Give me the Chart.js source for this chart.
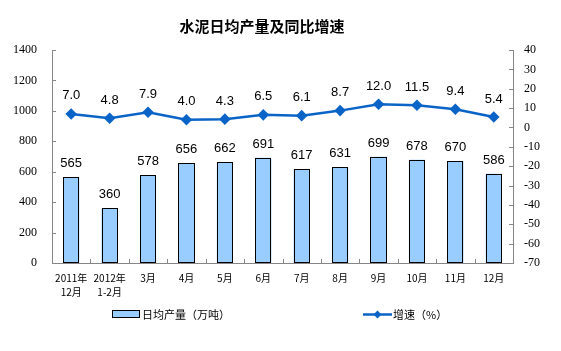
<!DOCTYPE html>
<html>
<head>
<meta charset="utf-8">
<script src="https://cdn.jsdelivr.net/npm/chart.js@4"></script>
<style>
html,body{margin:0;padding:0;background:#fff;}
#wrap{width:561px;height:351px;position:relative;}
</style>
</head>
<body>
<div id="wrap"><canvas id="c" width="561" height="351"></canvas></div>
<script>
const titleText = "水泥日均产量及同比增速";
const categories = [["2011年","12月"],["2012年","1-2月"],"3月","4月","5月","6月","7月","8月","9月","10月","11月","12月"];
const outputValues = [565, 360, 578, 656, 662, 691, 617, 631, 699, 678, 670, 586];
const growthValues = [7.0, 4.8, 7.9, 4.0, 4.3, 6.5, 6.1, 8.7, 12.0, 11.5, 9.4, 5.4];
const barLabel = "日均产量（万吨）";
const lineLabel = "增速（%）";

const BAR_FILL = "#99CCFF";
const LINE_COLOR = "#0A64C8";
const AXIS_COLOR = "#868686";

const decorPlugin = {
  id: "decor",
  afterDatasetDraw(chart, args) {
    if (args.index !== 1) return;
    const ctx = chart.ctx;
    ctx.save();
    ctx.lineWidth = 1;
    args.meta.data.forEach(el => {
      const l = Math.round(el.x - el.width / 2) + 0.5;
      const r = Math.round(el.x + el.width / 2) - 0.5;
      const t = Math.round(el.y) + 0.5;
      const b = Math.round(el.base) - 0.5;
      ctx.fillStyle = BAR_FILL;
      ctx.fillRect(l, t, r - l, b - t);
      ctx.strokeStyle = "#000";
      ctx.strokeRect(l, t, r - l, b - t);
    });
    ctx.restore();
  },
  afterDatasetsDraw(chart) {
    const ctx = chart.ctx;
    const area = chart.chartArea;
    ctx.save();
    ctx.strokeStyle = AXIS_COLOR;
    ctx.lineWidth = 1;
    const ys = chart.scales.y, y1s = chart.scales.y1, xs = chart.scales.x;
    ys.ticks.forEach(t => {
      const py = Math.round(ys.getPixelForValue(t.value)) + 0.5;
      ctx.beginPath(); ctx.moveTo(area.left, py); ctx.lineTo(area.left + 4, py); ctx.stroke();
    });
    y1s.ticks.forEach(t => {
      const py = Math.round(y1s.getPixelForValue(t.value)) + 0.5;
      ctx.beginPath(); ctx.moveTo(area.right, py); ctx.lineTo(area.right - 4, py); ctx.stroke();
    });
    for (let i = 1; i < categories.length; i++) {
      const px = Math.round((xs.getPixelForValue(i - 1) + xs.getPixelForValue(i)) / 2) + 0.5;
      ctx.beginPath(); ctx.moveTo(px, area.bottom); ctx.lineTo(px, area.bottom - 4); ctx.stroke();
    }
    ctx.fillStyle = "#000";
    ctx.font = "13px 'Liberation Sans', Arial, sans-serif";
    ctx.textAlign = "center";
    ctx.textBaseline = "middle";
    const barMeta = chart.getDatasetMeta(1);
    barMeta.data.forEach((el, i) => {
      ctx.fillText(String(outputValues[i]), el.x, el.y - 13.5);
    });
    const lineMeta = chart.getDatasetMeta(0);
    lineMeta.data.forEach((el, i) => {
      ctx.fillText(growthValues[i].toFixed(1), el.x, el.y - 18);
    });
    ctx.restore();
  },
  afterDraw(chart) {
    const ctx = chart.ctx;
    ctx.save();
    ctx.fillStyle = "#000";
    ctx.font = "bold 15px 'Noto Sans CJK SC', sans-serif";
    ctx.textAlign = "center";
    ctx.textBaseline = "middle";
    ctx.fillText(titleText, 262, 26);
    ctx.font = "11px 'Noto Sans CJK SC', sans-serif";
    ctx.textAlign = "left";
    ctx.fillStyle = BAR_FILL;
    ctx.fillRect(112.5, 310.5, 27, 7);
    ctx.strokeStyle = "#000"; ctx.lineWidth = 1;
    ctx.strokeRect(112.5, 310.5, 27, 7);
    ctx.fillStyle = "#000";
    ctx.fillText(barLabel, 142, 314.5);
    ctx.strokeStyle = LINE_COLOR; ctx.lineWidth = 2.5;
    ctx.beginPath(); ctx.moveTo(363, 314.5); ctx.lineTo(392, 314.5); ctx.stroke();
    ctx.fillStyle = LINE_COLOR;
    ctx.beginPath(); ctx.moveTo(377.5, 310.5); ctx.lineTo(381.5, 314.5); ctx.lineTo(377.5, 318.5); ctx.lineTo(373.5, 314.5); ctx.closePath(); ctx.fill();
    ctx.fillStyle = "#000";
    ctx.fillText(lineLabel, 393, 314.5);
    ctx.restore();
  }
};

new Chart(document.getElementById("c"), {
  type: "bar",
  data: {
    labels: categories,
    datasets: [
      {
        type: "line",
        label: lineLabel,
        data: growthValues,
        yAxisID: "y1",
        borderColor: LINE_COLOR,
        backgroundColor: LINE_COLOR,
        borderWidth: 2.5,
        pointStyle: "rectRot",
        pointRadius: 4,
        pointBackgroundColor: LINE_COLOR,
        pointBorderColor: LINE_COLOR,
        tension: 0,
        order: 0
      },
      {
        type: "bar",
        label: barLabel,
        data: outputValues,
        yAxisID: "y",
        backgroundColor: BAR_FILL,
        borderColor: "#000",
        borderWidth: 0,
        barPercentage: 0.42,
        categoryPercentage: 1.0,
        order: 1
      }
    ]
  },
  options: {
    responsive: false,
    animation: false,
    layout: { padding: { top: 50, left: 0, right: 0, bottom: 0 } },
    plugins: { legend: { display: false }, title: { display: false }, tooltip: { enabled: false } },
    scales: {
      x: {
        grid: { display: false, drawTicks: false },
        border: { display: true, color: AXIS_COLOR, width: 1 },
        ticks: { color: "#000", font: { family: "'Noto Sans CJK SC', sans-serif", size: 10, lineHeight: 1.4 }, padding: 8, maxRotation: 0, autoSkip: false },
        afterFit(s) { s.height = 88; }
      },
      y: {
        position: "left",
        min: 0, max: 1400,
        grid: { display: false, drawTicks: false },
        border: { display: true, color: AXIS_COLOR, width: 1 },
        ticks: { stepSize: 200, color: "#000", font: { family: "'Liberation Serif', 'DejaVu Serif', serif", size: 12 }, padding: 15, callback: v => String(v) },
        afterFit(s) { s.width = 52; }
      },
      y1: {
        position: "right",
        min: -70, max: 40,
        grid: { display: false, drawTicks: false },
        border: { display: true, color: AXIS_COLOR, width: 1 },
        ticks: { stepSize: 10, color: "#000", font: { family: "'Liberation Serif', 'DejaVu Serif', serif", size: 12 }, padding: 11, callback: v => String(v) },
        afterFit(s) { s.width = 48; }
      }
    }
  },
  plugins: [decorPlugin]
});
</script>
</body>
</html>
